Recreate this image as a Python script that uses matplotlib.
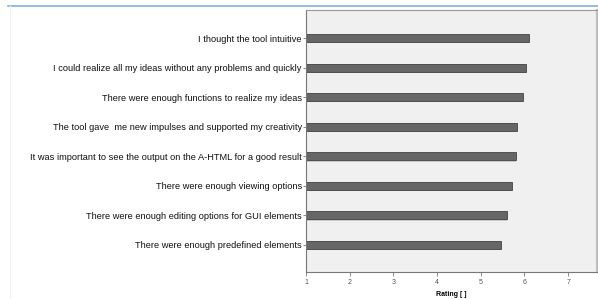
import numpy as np
import matplotlib.pyplot as plt
from matplotlib.lines import Line2D

statements = [
    "I thought the tool intuitive",
    "I could realize all my ideas without any problems and quickly",
    "There were enough functions to realize my ideas",
    "The tool gave  me new impulses and supported my creativity",
    "It was important to see the output on the A-HTML for a good result",
    "There were enough viewing options",
    "There were enough editing options for GUI elements",
    "There were enough predefined elements",
]
ratings = [6.10, 6.03, 5.97, 5.84, 5.80, 5.71, 5.61, 5.47]
xticks = [1, 2, 3, 4, 5, 6, 7]

plt.rcParams['font.family'] = ['Liberation Sans', 'DejaVu Sans']

fig = plt.figure(figsize=(5.98, 2.99), dpi=100)
ax = fig.add_axes([306 / 598, 1 - 272 / 299, 291 / 598, 262 / 299])
ax.set_facecolor('#f0f0f0')

y = np.arange(len(statements))
# light shadow behind bars
ax.barh(y + 0.03, np.array(ratings) - 1, left=1, height=0.30, color='#c8c8c8', zorder=1)
ax.barh(y, np.array(ratings) - 1, left=1, height=0.27, color='#666666',
        edgecolor='#444444', linewidth=0.6, zorder=2)

ax.set_ylim(len(statements) - 1 + 0.92, -0.95)
ax.set_xlim(1, 7.66)
ax.set_yticks(y)
ax.set_yticklabels(statements, fontsize=6.7, color='#111111')
ax.set_xticks(xticks)
ax.set_xticklabels([str(t) for t in xticks], fontsize=5, color='#555555')
ax.tick_params(axis='y', length=2, width=0.6, color='#777777', pad=1)
ax.tick_params(axis='x', length=3, width=0.6, color='#777777', pad=2)
ax.set_xlabel('Rating [ ]', fontsize=5, fontweight='bold', labelpad=4)

for side in ['left', 'bottom']:
    ax.spines[side].set_color('#777777')
    ax.spines[side].set_linewidth(0.8)
ax.spines['top'].set_color('#9a9a9a')
ax.spines['top'].set_linewidth(0.8)
ax.spines['right'].set_color('#bdbdbd')
ax.spines['right'].set_linewidth(1.5)

# page decoration: blue rule at top and faint left edge
fig.add_artist(Line2D([8 / 598, 1], [1 - 6 / 299, 1 - 6 / 299], color='#7fb2e0', linewidth=1.2))
fig.add_artist(Line2D([10 / 598, 10 / 598], [0, 1 - 6 / 299], color='#eef2fa', linewidth=0.8))

fig.savefig('out.png', dpi=100)
